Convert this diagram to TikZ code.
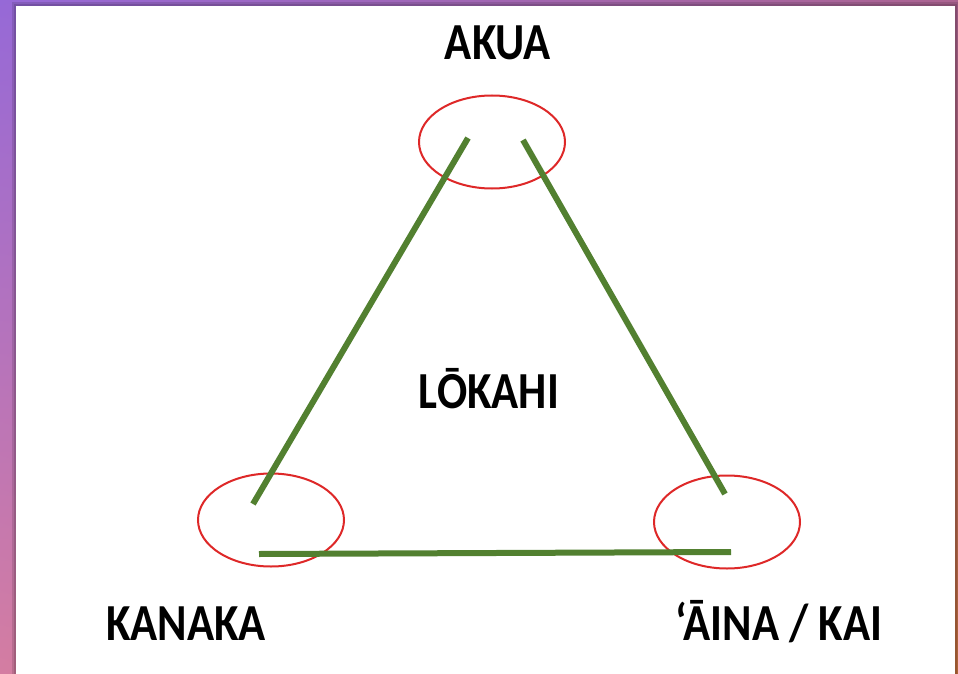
\documentclass[tikz,border=0pt]{standalone}
\usepackage{fontspec}
\setmainfont{Carlito}
\newfontfamily\narrowfont[FakeStretch=0.86]{Carlito}
\usepackage{tikz}
\usetikzlibrary{shapes.geometric, shadings, positioning}

\definecolor{frameUL}{RGB}{150,105,215}
\definecolor{frameUR}{RGB}{172,100,145}
\definecolor{frameLL}{RGB}{212,125,162}
\definecolor{frameLR}{RGB}{196,112,62}
\definecolor{ringred}{RGB}{222,40,40}
\definecolor{bondgreen}{RGB}{82,128,48}

\begin{document}
\begin{tikzpicture}[x=1pt, y=-1pt,
    ring/.style={ellipse, draw=ringred, line width=2pt,
                 minimum width=146pt, minimum height=93pt, inner sep=0pt},
    bond/.style={bondgreen, line width=6pt},
    word/.style={anchor=base, font=\narrowfont\fontsize{52}{56}\selectfont\bfseries}]
  % Frame
  \shade[upper left=frameUL, upper right=frameUR,
         lower left=frameLL, lower right=frameLR] (0,0) rectangle (958,674);
  \useasboundingbox (0,0) rectangle (958,674);
  \fill[black, opacity=0.12] (12,2) rectangle (959,674);
  \fill[black, opacity=0.12] (14,4) rectangle (957,674);
  \fill[white] (16,6) rectangle (955,674);

  % Rings
  \node[ring] (akua)   at (492,142) {};
  \node[ring] (kanaka) at (271,520) {};
  \node[ring] (aina)   at (727,522) {};

  % Line ends
  \coordinate (akuaL) at (468,138);
  \coordinate (akuaR) at (523,140);
  \coordinate (kanakaT) at (253,504);
  \coordinate (kanakaB) at (259,554);
  \coordinate (ainaT) at (725,494);
  \coordinate (ainaB) at (731,552);

  % Triangle
  \draw[bond] (akuaL) -- (kanakaT);
  \draw[bond] (akuaR) -- (ainaT);
  \draw[bond] (kanakaB) -- (ainaB);

  % Labels
  \node[word] (akuaTxt)   at (498,60)  {AKUA};
  \node[word] (lokahiTxt) at (489,408) {LŌKAHI};
  \node[word] (kanakaTxt) at (186,640) {KANAKA};
  \node[word] (ainaTxt)   at (779,640) {‘ĀINA / KAI};
\end{tikzpicture}
\end{document}
